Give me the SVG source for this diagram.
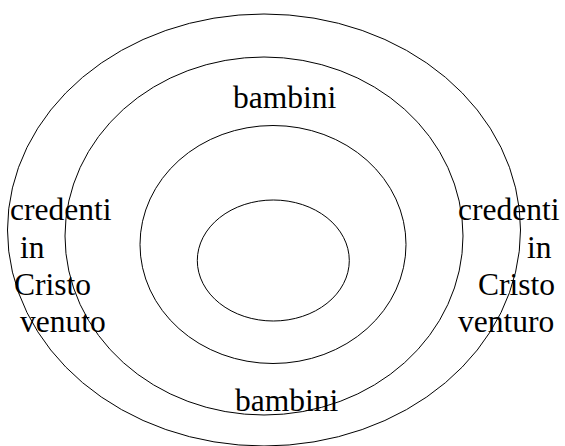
<svg xmlns="http://www.w3.org/2000/svg" width="565" height="446" viewBox="0 0 565 446">
<style>
.ring{fill:none;stroke:#000;stroke-width:1}
.t{font-size:31.5px;fill:#000}
</style>
<rect width="565" height="446" fill="#fff"/>
<g id="rings">
<ellipse id="outer" class="ring" cx="264" cy="230" rx="256.5" ry="216"/>
<ellipse id="second" class="ring" cx="264" cy="236" rx="199" ry="179"/>
<ellipse id="third" class="ring" cx="273" cy="244.5" rx="133" ry="119"/>
<ellipse id="inner" class="ring" cx="273.3" cy="260.5" rx="76" ry="60.5"/>
</g>
<g id="labels" font-family="'Liberation Serif', 'Times New Roman', 'DejaVu Serif', serif">
<text class="t" x="233" y="108">bambini</text>
<text class="t" x="235" y="411">bambini</text>
<text class="t" x="10" y="220">credenti</text>
<text class="t" x="20" y="258">in</text>
<text class="t" x="14" y="295">Cristo</text>
<text class="t" x="20" y="332">venuto</text>
<text class="t" x="458" y="220">credenti</text>
<text class="t" x="527" y="258">in</text>
<text class="t" x="478" y="295">Cristo</text>
<text class="t" x="458" y="332">venturo</text>
</g>
</svg>
